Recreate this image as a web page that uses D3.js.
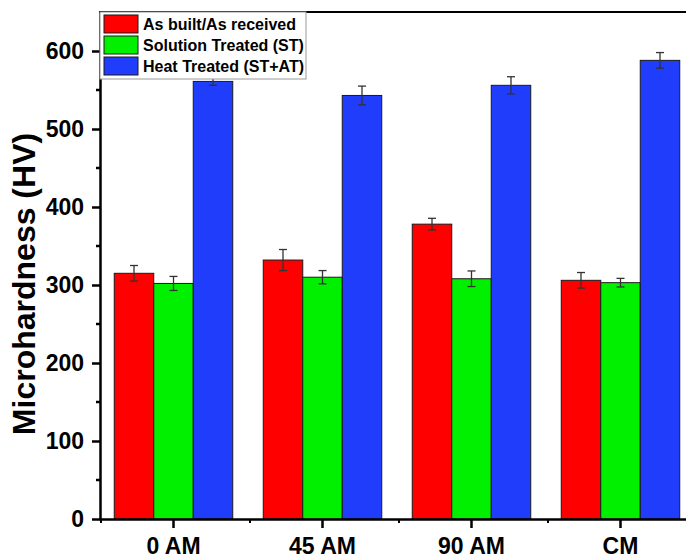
<!DOCTYPE html>
<html>
<head>
<meta charset="utf-8">
<script src="https://cdn.jsdelivr.net/npm/d3@7"></script>
<style>
  body { margin: 0; background: #fff; }
  text { font-family: "Liberation Sans", Arial, sans-serif; font-weight: bold; }
</style>
</head>
<body>
<script>
var groups = ["0 AM", "45 AM", "90 AM", "CM"];
var seriesNames = ["As built/As received", "Solution Treated (ST)", "Heat Treated (ST+AT)"];
var seriesColors = ["#ff0000", "#00f000", "#1f3dfa"];

var asBuilt = [315, 332, 378, 306];
var asBuiltErr = [10, 13.5, 7.5, 10];
var solTreated = [302, 310, 308, 303];
var solTreatedErr = [9, 8.5, 10, 5.5];
var heatTreated = [561, 543, 556, 588];
var heatTreatedErr = [5, 12, 11, 10];

var yTicks = [0, 100, 200, 300, 400, 500, 600];
var yMinorTicks = [50, 150, 250, 350, 450, 550];

var values = [asBuilt, solTreated, heatTreated];
var errors = [asBuiltErr, solTreatedErr, heatTreatedErr];

var width = 686, height = 560;
var pLeft = 99, pRight = 695, pTop = 12, pBottom = 519;

var svg = d3.select("body")
    .append("svg")
    .attr("width", width)
    .attr("height", height);

var x = d3.scaleBand().domain(groups).range([pLeft, pRight]);
var sub = d3.scaleBand().domain(d3.range(3)).range([-59.25, 59.25]);
var y = d3.scaleLinear().domain([0, 650]).range([pBottom, pTop]);

// bars
for (var s = 0; s < 3; s++) {
    svg.selectAll(".bar" + s)
        .data(groups)
        .enter()
        .append("rect")
        .attr("x", function(d) { return x(d) + x.bandwidth() / 2 + sub(s); })
        .attr("y", function(d, i) { return y(values[s][i]); })
        .attr("width", sub.bandwidth())
        .attr("height", function(d, i) { return pBottom - y(values[s][i]); })
        .attr("fill", seriesColors[s])
        .attr("stroke", "#1a1a1a")
        .attr("stroke-width", 1);
}

// error bars
for (var s = 0; s < 3; s++) {
    var eb = svg.selectAll(".err" + s)
        .data(groups)
        .enter()
        .append("g")
        .attr("stroke", "#333")
        .attr("stroke-width", 1.3)
        .attr("transform", function(d) {
            return "translate(" + (x(d) + x.bandwidth() / 2 + sub(s) + sub.bandwidth() / 2) + ",0)";
        });
    eb.append("line")
        .attr("y1", function(d, i) { return y(values[s][i] + errors[s][i]); })
        .attr("y2", function(d, i) { return y(values[s][i] - errors[s][i]); });
    eb.append("line")
        .attr("x1", -4).attr("x2", 4)
        .attr("y1", function(d, i) { return y(values[s][i] + errors[s][i]); })
        .attr("y2", function(d, i) { return y(values[s][i] + errors[s][i]); });
    eb.append("line")
        .attr("x1", -4).attr("x2", 4)
        .attr("y1", function(d, i) { return y(values[s][i] - errors[s][i]); })
        .attr("y2", function(d, i) { return y(values[s][i] - errors[s][i]); });
}

// top frame line
svg.append("line")
    .attr("x1", pLeft).attr("x2", pRight)
    .attr("y1", pTop).attr("y2", pTop)
    .attr("stroke", "#000").attr("stroke-width", 2);

// y axis
var yAxis = svg.append("g")
    .attr("transform", "translate(" + (pLeft + 1) + ",0)")
    .call(d3.axisLeft(y).tickValues(yTicks).tickSize(8).tickSizeOuter(0).tickPadding(8));
yAxis.select(".domain").attr("stroke-width", 2.5);
yAxis.selectAll(".tick line").attr("stroke-width", 2.5);
yAxis.selectAll("text").style("font-size", "23px").attr("fill", "#000");

svg.append("g")
    .attr("transform", "translate(" + (pLeft + 1) + ",0)")
    .selectAll("line")
    .data(yMinorTicks)
    .enter()
    .append("line")
    .attr("x1", -4).attr("x2", 0)
    .attr("y1", function(d) { return y(d); })
    .attr("y2", function(d) { return y(d); })
    .attr("stroke", "#000").attr("stroke-width", 2.5);

// x axis
var xAxis = svg.append("g")
    .attr("transform", "translate(0," + pBottom + ")")
    .call(d3.axisBottom(x).tickSize(9).tickSizeOuter(0).tickPadding(10));
xAxis.select(".domain").attr("stroke-width", 2.5);
xAxis.selectAll(".tick line").attr("stroke-width", 2.5);
xAxis.selectAll("text").style("font-size", "23px").attr("fill", "#000");

svg.append("g")
    .attr("transform", "translate(0," + pBottom + ")")
    .selectAll("line")
    .data(groups)
    .enter()
    .append("line")
    .attr("x1", function(d) { return x(d) + 2; })
    .attr("x2", function(d) { return x(d) + 2; })
    .attr("y1", 0).attr("y2", 4)
    .attr("stroke", "#000").attr("stroke-width", 2);

// y label
svg.append("text")
    .attr("text-anchor", "middle")
    .attr("transform", "translate(35,284)rotate(-90)")
    .style("font-size", "32px")
    .text("Microhardness (HV)");

// legend
var legend = svg.append("g");
legend.append("rect")
    .attr("x", pLeft + 1).attr("y", pTop)
    .attr("width", 206).attr("height", 67)
    .attr("fill", "#fff")
    .attr("stroke", "#999").attr("stroke-width", 1);
legend.selectAll(".sw")
    .data(seriesNames)
    .enter()
    .append("rect")
    .attr("x", 104)
    .attr("y", function(d, i) { return 15 + i * 21; })
    .attr("width", 34).attr("height", 18)
    .attr("fill", function(d, i) { return seriesColors[i]; })
    .attr("stroke", "#1a1a1a").attr("stroke-width", 1);
legend.selectAll(".lt")
    .data(seriesNames)
    .enter()
    .append("text")
    .attr("x", 143)
    .attr("y", function(d, i) { return 30 + i * 21; })
    .style("font-size", "16px")
    .text(function(d) { return d; });
</script>
</body>
</html>
